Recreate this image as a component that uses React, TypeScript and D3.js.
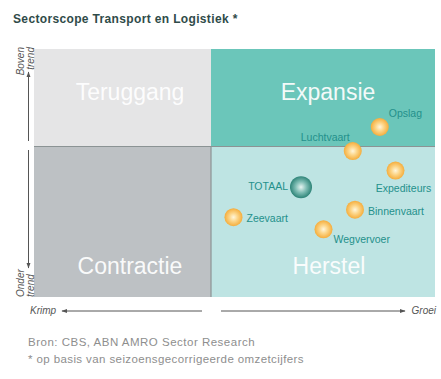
import React from "react";
import * as d3 from "d3";

const quadrantNames = ["Teruggang", "Expansie", "Contractie", "Herstel"];
const sectors = ["Opslag", "Luchtvaart", "Expediteurs", "TOTAAL", "Zeevaart", "Binnenvaart", "Wegvervoer"];
const growth = [0.75, 0.63, 0.82, 0.4, 0.1, 0.64, 0.5];
const trend = [0.2, -0.03, -0.16, -0.27, -0.47, -0.42, -0.55];
const labelSide = ["aboveRight", "aboveLeft", "below", "left", "right", "right", "belowRight"];

const W = 441, H = 379;
const L = 34, R = 435, T = 49, B = 297, MX = 211, MY = 146.5;

export default function App() {
  const xs = d3.scaleLinear().domain([-1, 0, 1]).range([L, MX, MX + 225]);
  const y = d3.scaleLinear().domain([-1, 0, 1]).range([B, MY, MY - 97.5]);
  const quads = [
    { name: quadrantNames[0], x0: L, x1: MX, y0: T, y1: MY, fill: "#e5e5e6", lx: 130, ly: 100 },
    { name: quadrantNames[1], x0: MX, x1: R, y0: T, y1: MY, fill: "#6bc6ba", lx: 328, ly: 100 },
    { name: quadrantNames[2], x0: L, x1: MX, y0: MY, y1: B, fill: "#bdc1c4", lx: 130, ly: 274 },
    { name: quadrantNames[3], x0: MX, x1: R, y0: MY, y1: B, fill: "#bee4e3", lx: 329, ly: 274 },
  ];
  const labelColor = "#24908b";
  const axisColor = "#555";
  const offsets: Record<string, { dx: number; dy: number; anchor: string }> = {
    aboveRight: { dx: 9, dy: -10, anchor: "start" },
    aboveLeft: { dx: -3, dy: -10, anchor: "end" },
    below: { dx: 8, dy: 21, anchor: "middle" },
    left: { dx: -13, dy: 3, anchor: "end" },
    right: { dx: 13, dy: 5, anchor: "start" },
    belowRight: { dx: 10, dy: 14, anchor: "start" },
  };
  return (
    <svg width={W} height={H} style={{ position: "absolute", left: 0, top: 0, background: "#fff" }}
      fontFamily="Arial, 'Liberation Sans', sans-serif">
      <defs>
        <radialGradient id="gOrange" cx="50%" cy="50%" r="50%">
          <stop offset="0%" stopColor="#fff6dc" />
          <stop offset="45%" stopColor="#fcd68a" />
          <stop offset="100%" stopColor="#f5ad3c" />
        </radialGradient>
        <radialGradient id="gTeal" cx="50%" cy="50%" r="50%">
          <stop offset="0%" stopColor="#e6f4f1" />
          <stop offset="50%" stopColor="#7fbdb4" />
          <stop offset="100%" stopColor="#2e8478" />
        </radialGradient>
        <marker id="arr" viewBox="0 0 10 10" refX="9" refY="5" markerWidth="6" markerHeight="6" orient="auto-start-reverse">
          <path d="M0,1.5 L10,5 L0,8.5 z" fill={axisColor} />
        </marker>
      </defs>
      <text x={13} y={23} fontSize={12} letterSpacing={0.35} fontWeight="bold" fill="#2f4b49">Sectorscope Transport en Logistiek *</text>
      {quads.map((q) => (
        <g key={q.name}>
          <rect x={q.x0} y={q.y0} width={q.x1 - q.x0} height={q.y1 - q.y0} fill={q.fill} />
          <text x={q.lx} y={q.ly} textAnchor="middle" fontSize={23} fill="#fff" opacity={0.92}>{q.name}</text>
        </g>
      ))}
      <line x1={L} x2={R} y1={MY} y2={MY} stroke="#8b9394" strokeWidth={1.2} />
      <line x1={MX} x2={MX} y1={MY} y2={B} stroke="#8b9394" strokeWidth={1.2} />
      <line x1={28.5} x2={28.5} y1={141} y2={72} stroke={axisColor} strokeWidth={1} markerEnd="url(#arr)" />
      <line x1={28.5} x2={28.5} y1={150} y2={268} stroke={axisColor} strokeWidth={1} markerEnd="url(#arr)" />
      <text transform="translate(24,47) rotate(-90)" textAnchor="end" fontSize={10} fontStyle="italic" fill={axisColor}>Boven</text>
      <text transform="translate(33.5,47) rotate(-90)" textAnchor="end" fontSize={10} fontStyle="italic" fill={axisColor}>trend</text>
      <text transform="translate(24,297) rotate(-90)" textAnchor="start" fontSize={10} fontStyle="italic" fill={axisColor}>Onder</text>
      <text transform="translate(33.5,297) rotate(-90)" textAnchor="start" fontSize={10} fontStyle="italic" fill={axisColor}>trend</text>
      <text x={30} y={314} fontSize={10} fontStyle="italic" fill={axisColor}>Krimp</text>
      <line x1={202} x2={62} y1={311} y2={311} stroke={axisColor} strokeWidth={1} markerEnd="url(#arr)" />
      <line x1={221} x2={405} y1={311} y2={311} stroke={axisColor} strokeWidth={1} markerEnd="url(#arr)" />
      <text x={436} y={314} textAnchor="end" fontSize={10} fontStyle="italic" fill={axisColor}>Groei</text>
      {sectors.map((s, i) => {
        const cx = xs(growth[i]);
        const cy = y(trend[i]);
        const isTot = s === "TOTAAL";
        const o = offsets[labelSide[i]];
        return (
          <g key={s}>
            <circle cx={cx} cy={cy} r={isTot ? 11 : 9} fill={isTot ? "url(#gTeal)" : "url(#gOrange)"} />
            <text x={cx + o.dx} y={cy + o.dy} textAnchor={o.anchor} fontSize={10.5} fill={labelColor}>{s}</text>
          </g>
        );
      })}
      <text x={28} y={346} fontSize={11.5} letterSpacing={0.5} fill="#8e8e8e">Bron: CBS, ABN AMRO Sector Research</text>
      <text x={28} y={363} fontSize={11.5} letterSpacing={0.4} fill="#8e8e8e">* op basis van seizoensgecorrigeerde omzetcijfers</text>
    </svg>
  );
}
